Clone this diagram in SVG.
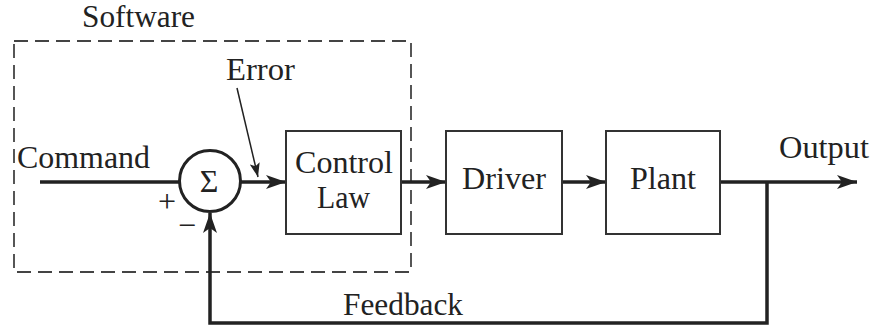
<svg xmlns="http://www.w3.org/2000/svg" width="877" height="328" viewBox="0 0 877 328">
<defs>
<style>
text{font-family:'Liberation Serif','Times New Roman',Times,serif;fill:#222;}
.lbl{font-size:31px;}
.box{fill:#fff;stroke:#333;stroke-width:2;}
.sig{fill:none;stroke:#222;stroke-width:3.5;}
.thin{fill:none;stroke:#222;stroke-width:1.5;}
.dash{fill:none;stroke:#444;stroke-width:1.8;stroke-dasharray:14 7;}
</style>
<marker id="ah" viewBox="0 0 20 14" refX="20" refY="7" markerWidth="20" markerHeight="14" markerUnits="userSpaceOnUse" orient="auto">
<path d="M0,0 L20,7 L0,14 L5,7 Z" fill="#222"/>
</marker>
<marker id="ahs" viewBox="0 0 14 10" refX="14" refY="5" markerWidth="14" markerHeight="10" markerUnits="userSpaceOnUse" orient="auto">
<path d="M0,0 L14,5 L0,10 L3,5 Z" fill="#222"/>
</marker>
</defs>

<g id="software">
<rect class="dash" x="14" y="41" width="397" height="231"/>
<text class="lbl" x="82" y="27" textLength="113" lengthAdjust="spacingAndGlyphs">Software</text>
</g>

<g id="connectors">
<line class="sig" x1="40" y1="182" x2="179" y2="182"/>
<line class="sig" x1="241" y1="182" x2="286" y2="182" marker-end="url(#ah)"/>
<line class="sig" x1="401" y1="182" x2="446" y2="182" marker-end="url(#ah)"/>
<line class="sig" x1="562" y1="182" x2="606" y2="182" marker-end="url(#ah)"/>
<line class="sig" x1="720" y1="182" x2="857" y2="182" marker-end="url(#ah)"/>
<polyline class="sig" points="767,182 767,323 210,323 210,213" marker-end="url(#ah)"/>
<line class="thin" x1="237" y1="88" x2="258" y2="177" marker-end="url(#ahs)"/>
</g>

<g id="sum">
<circle cx="210" cy="181" r="30.5" fill="#fff" stroke="#222" stroke-width="3"/>
<text x="209" y="192" font-size="32" text-anchor="middle">Σ</text>
<text x="167" y="212" font-size="32" text-anchor="middle">+</text>
<text x="187" y="236" font-size="32" text-anchor="middle">−</text>
</g>

<g id="control-law">
<rect class="box" x="286" y="131" width="115" height="103"/>
<text class="lbl" x="295" y="173" textLength="98" lengthAdjust="spacingAndGlyphs">Control</text>
<text class="lbl" x="317" y="208" textLength="53" lengthAdjust="spacingAndGlyphs">Law</text>
</g>

<g id="driver">
<rect class="box" x="446" y="131" width="116" height="103"/>
<text class="lbl" x="462" y="189" textLength="84" lengthAdjust="spacingAndGlyphs">Driver</text>
</g>

<g id="plant">
<rect class="box" x="606" y="131" width="114" height="103"/>
<text class="lbl" x="630" y="189" textLength="66" lengthAdjust="spacingAndGlyphs">Plant</text>
</g>

<g id="labels">
<text class="lbl" x="17" y="168" textLength="133" lengthAdjust="spacingAndGlyphs">Command</text>
<text class="lbl" x="226" y="80" textLength="69" lengthAdjust="spacingAndGlyphs">Error</text>
<text class="lbl" x="779" y="158" textLength="90" lengthAdjust="spacingAndGlyphs">Output</text>
<text class="lbl" x="343" y="315" textLength="120" lengthAdjust="spacingAndGlyphs">Feedback</text>
</g>
</svg>
